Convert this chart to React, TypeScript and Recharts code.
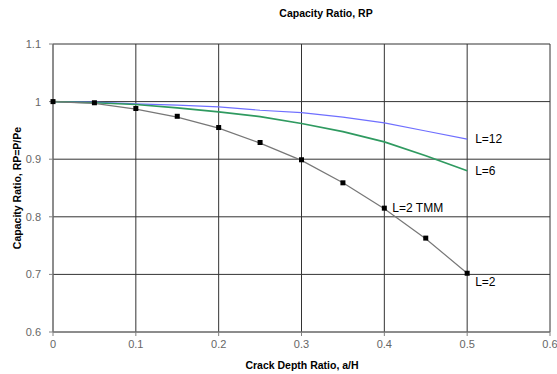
import React from "react";
import { LineChart, Line, XAxis, YAxis, CartesianGrid, Label } from "recharts";

const crackRatio = [0, 0.05, 0.1, 0.15, 0.2, 0.25, 0.3, 0.35, 0.4, 0.45, 0.5];
const ratioL12 = [1, 0.999, 0.996, 0.994, 0.991, 0.985, 0.981, 0.973, 0.963, 0.949, 0.935];
const ratioL6 = [1, 0.998, 0.995, 0.989, 0.982, 0.974, 0.962, 0.948, 0.93, 0.906, 0.88];
const ratioL2 = [1, 0.997, 0.987, 0.973, 0.954, 0.928, 0.898, 0.859, 0.814, 0.762, 0.702];
const ratioL2Tmm = [1, 0.998, 0.988, 0.9745, 0.955, 0.929, 0.899, 0.859, 0.815, 0.763, 0.702];

const xTicks = [0, 0.1, 0.2, 0.3, 0.4, 0.5, 0.6];
const yTicks = [0.6, 0.7, 0.8, 0.9, 1, 1.1];

const data = crackRatio.map((x, i) => ({
  x,
  l12: ratioL12[i],
  l6: ratioL6[i],
  l2: ratioL2[i],
  tmm: ratioL2Tmm[i],
}));

const FONT = "Arial, 'Liberation Sans', sans-serif";

function seriesLabel(text: string, at: number, dx: number, dy: number) {
  return (props: any) => {
    if (props.index !== at) return <g />;
    return (
      <text x={props.x + dx} y={props.y + dy} fontSize={12} fill="#000" fontFamily={FONT}>
        {text}
      </text>
    );
  };
}

function SquareDot(props: any) {
  const { cx, cy } = props;
  if (cx == null || cy == null) return <g />;
  return <rect x={cx - 2.5} y={cy - 2.5} width={5} height={5} fill="#000" />;
}

export default function App() {
  return (
    <div style={{ position: "absolute", left: 0, top: 0, width: 557, height: 374, background: "#fff", fontFamily: FONT }}>
      <div
        style={{
          position: "absolute",
          left: 226,
          top: 7,
          width: 200,
          textAlign: "center",
          fontSize: 10.5,
          fontWeight: "bold",
        }}
      >
        Capacity Ratio, RP
      </div>
      <LineChart width={557} height={374} data={data} margin={{ top: 44, right: 7, bottom: 0, left: 0 }}>
        <CartesianGrid stroke="#333" strokeWidth={1} />
        <XAxis
          dataKey="x"
          type="number"
          domain={[0, 0.6]}
          ticks={xTicks}
          height={42}
          stroke="#808080"
          tickSize={4}
          tickMargin={4}
          tick={{ fontSize: 11, fill: "#666", fontFamily: FONT }}
        >
          <Label
            content={() => (
              <text x={302} y={369} textAnchor="middle" fontSize={10.5} fontWeight="bold" fontFamily={FONT} fill="#000">
                Crack Depth Ratio, a/H
              </text>
            )}
          />
        </XAxis>
        <YAxis
          type="number"
          domain={[0.6, 1.1]}
          ticks={yTicks}
          width={53}
          stroke="#808080"
          tickSize={4}
          tickMargin={8}
          tick={{ fontSize: 11, fill: "#666", fontFamily: FONT }}
        >
          <Label
            content={() => (
              <text
                x={21}
                y={188}
                textAnchor="middle"
                transform="rotate(-90 21 188)"
                fontSize={10.5}
                fontWeight="bold"
                fontFamily={FONT}
                fill="#000"
              >
                Capacity Ratio, RP=P/Pe
              </text>
            )}
          />
        </YAxis>
        <Line
          dataKey="l12"
          stroke="#6f6fff"
          strokeWidth={1.2}
          dot={false}
          isAnimationActive={false}
          label={seriesLabel("L=12", 10, 8, 4)}
        />
        <Line
          dataKey="l6"
          stroke="#2f9a60"
          strokeWidth={1.7}
          dot={false}
          isAnimationActive={false}
          label={seriesLabel("L=6", 10, 8, 4)}
        />
        <Line
          dataKey="l2"
          stroke="#777"
          strokeWidth={1.2}
          dot={false}
          isAnimationActive={false}
          label={seriesLabel("L=2", 10, 8, 13)}
        />
        <Line
          dataKey="tmm"
          stroke="none"
          dot={<SquareDot />}
          activeDot={false}
          isAnimationActive={false}
          label={seriesLabel("L=2 TMM", 8, 8, 4)}
        />
      </LineChart>
    </div>
  );
}
